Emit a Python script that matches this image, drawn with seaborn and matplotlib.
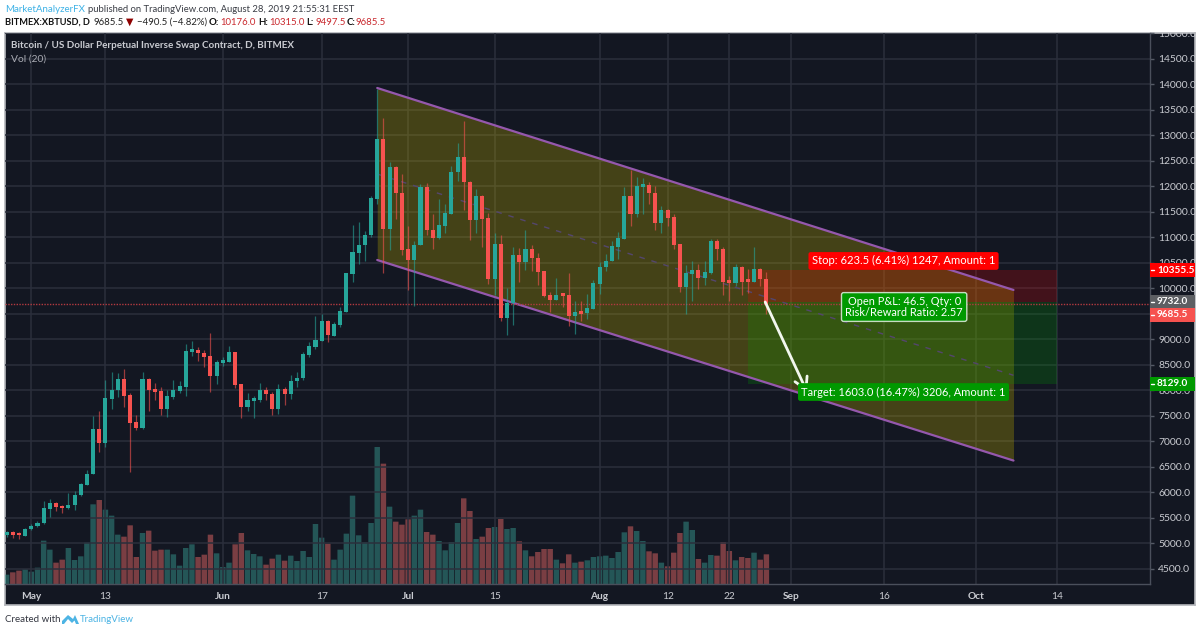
import numpy as np
import pandas as pd
import seaborn as sns
import matplotlib
matplotlib.use("Agg")
import matplotlib.pyplot as plt
from matplotlib.patches import Polygon, Rectangle

# Candles, one per day from 27 Apr 2019 to 28 Aug 2019
opens = [5160, 5180, 5173, 5147, 5271, 5330, 5389, 5670, 5781, 5729, 5683, 5749, 5945, 6141, 6356, 7239, 6971, 7828, 7998, 8213,
         7906, 7376, 7252, 8213, 8024, 7978, 7625, 7873, 7991, 8070, 8750, 8789, 8730, 8671, 8279, 8540, 8554, 8750, 8115, 7670,
         7795, 7808, 8004, 7932, 7625, 8024, 7919, 8174, 8233, 8684, 8848, 8972, 9358, 9070, 9280, 9541, 10280, 10699, 10843, 11045,
         11752, 12929, 11157, 12380, 11870, 10765, 10555, 10843, 11994, 11144, 10994, 11229, 11464, 12282, 12570, 12092, 11334, 11811, 11373, 10189,
         10869, 9424, 9712, 10660, 10516, 10765, 10601, 10333, 9862, 9771, 9875, 9862, 9457, 9535, 9508, 9593, 10084, 10411, 10535, 10816,
         10973, 11817, 11464, 11987, 12026, 11876, 11274, 11536, 11398, 10862, 10025, 10287, 10359, 10202, 10300, 10928, 10777, 10143, 10097, 10411,
         10143, 10130, 10378, 10176]
closes = [5180, 5160, 5154, 5278, 5343, 5402, 5683, 5781, 5703, 5683, 5749, 5945, 6154, 6363, 7239, 6971, 7847, 8004, 8213, 7893,
          7357, 7252, 8213, 8004, 7965, 7625, 7886, 8004, 8083, 8763, 8789, 8724, 8658, 8279, 8554, 8573, 8750, 8102, 7670, 7801,
          7814, 8004, 7919, 7625, 8024, 7919, 8181, 8246, 8710, 8867, 8985, 9358, 9077, 9299, 9554, 10293, 10712, 10856, 11045, 11778,
          12929, 11157, 12380, 11870, 10752, 10555, 10850, 11994, 11137, 10994, 11236, 11471, 12288, 12570, 12092, 11334, 11811, 11366, 10189, 10869,
          9424, 9712, 10660, 10516, 10765, 10595, 10326, 9849, 9771, 9875, 9849, 9457, 9535, 9502, 9613, 10097, 10417, 10535, 10823, 10986,
          11817, 11464, 12000, 12026, 11863, 11274, 11536, 11385, 10856, 10025, 10300, 10359, 10202, 10319, 10928, 10771, 10130, 10104, 10411, 10130,
          10123, 10378, 10176, 9685.5]
highs = [5232, 5238, 5226, 5297, 5376, 5435, 5821, 5873, 5808, 5755, 5991, 6023, 6180, 6435, 7494, 7599, 8200, 8351, 8338, 8416,
         7952, 7507, 8351, 8233, 8142, 8070, 8004, 8200, 8181, 8900, 8972, 8841, 8796, 9116, 8586, 8645, 8867, 8750, 8115, 7945,
         7886, 8142, 8063, 7965, 8128, 8070, 8292, 8351, 8750, 8946, 9450, 9495, 9371, 9332, 9626, 10293, 11241, 11294, 11117, 11810,
         13916, 13348, 12472, 12393, 12236, 11222, 10928, 12040, 12066, 11451, 11752, 11654, 12393, 12844, 13276, 12098, 11948, 11837, 11471, 11079,
         11046, 10000, 10804, 10784, 11144, 10843, 10693, 10333, 9934, 10202, 9901, 10307, 9758, 9744, 9888, 10162, 10516, 10673, 10928, 11098,
         11980, 12321, 12177, 12164, 12079, 12007, 11614, 11555, 11451, 10862, 10457, 10535, 10483, 10529, 10960, 10967, 10803, 10247, 10476, 10430,
         10378, 10810, 10398, 10315]
lows = [5114, 5108, 5082, 5140, 5265, 5324, 5376, 5520, 5624, 5585, 5677, 5657, 5932, 6135, 6350, 6794, 6886, 7638, 7873, 7670,
        6402, 7219, 7245, 7599, 7814, 7507, 7481, 7821, 7952, 7893, 8678, 8573, 8462, 7972, 8128, 8475, 8547, 8043, 7448, 7599,
        7461, 7775, 7808, 7520, 7540, 7716, 7828, 8070, 8194, 8652, 8815, 8966, 8946, 9064, 9247, 9541, 10130, 10483, 10542, 11013,
        11647, 10307, 10752, 11360, 10660, 9967, 9659, 10843, 11046, 10771, 10961, 11079, 11451, 12112, 11536, 10948, 11092, 10817, 10091, 9869,
        9365, 9090, 9287, 10117, 10366, 10340, 10071, 9823, 9529, 9771, 9627, 9267, 9110, 9359, 9391, 9587, 9888, 10345, 10535, 10581,
        10973, 11222, 11392, 11457, 11654, 11137, 11078, 11228, 10771, 9920, 9502, 9750, 9979, 10064, 10280, 10555, 9862, 9750, 10051, 9862,
        9901, 10130, 10045, 9497.5]
# Volume, in pane units (the pane shows no scale)
volumes = [28, 35, 40, 44, 37, 49, 130, 103, 64, 73, 108, 72, 83, 124, 239, 252, 223, 205, 148, 142,
           176, 81, 153, 160, 100, 103, 103, 89, 55, 108, 119, 81, 88, 148, 92, 51, 64, 119, 153, 101,
           90, 83, 58, 76, 88, 70, 85, 69, 99, 81, 180, 139, 121, 73, 103, 151, 265, 146, 125, 183,
           411, 361, 232, 187, 178, 194, 205, 223, 156, 148, 129, 101, 126, 183, 257, 219, 135, 142, 168, 171,
           195, 165, 168, 128, 101, 83, 96, 105, 105, 73, 62, 89, 64, 67, 71, 81, 83, 85, 78, 96,
           155, 173, 159, 129, 98, 92, 64, 53, 94, 153, 187, 162, 75, 64, 87, 85, 126, 99, 71, 81,
           78, 94, 73, 89]

tick_dates = ["2019-05-01", "2019-05-13", "2019-06-01", "2019-06-17", "2019-07-01", "2019-07-15", "2019-08-01",
              "2019-08-12", "2019-08-22", "2019-09-01", "2019-09-16", "2019-10-01", "2019-10-14"]
tick_labels = ["May", "13", "Jun", "17", "Jul", "15", "Aug", "12", "22", "Sep", "16", "Oct", "14"]
price_ticks = [4500, 5000, 5500, 6000, 6500, 7000, 7500, 8000, 8500, 9000, 9500, 10000, 10500, 11000, 11500,
               12000, 12500, 13000, 13500, 14000, 14500, 15000]

# Drawings on the chart
channel_dates = ["2019-06-26", "2019-10-07"]
channel_high = [13930, 9967]
channel_low = [10555, 6620]
channel_mid = [12242, 8293]
position_dates = ["2019-08-25", "2019-10-14"]
entry_price = 9732
stop_price = 10355.5
target_price = 8129
last_price = 9685.5
arrow_dates = ["2019-08-28", "2019-09-03"]
arrow_prices = [9732, 7965]

# price tags on the right scale: text, where it sits, colour
tag_texts = ["10355.5", "9732.0", "9685.5", "8129.0"]
tag_prices = [10355.5, 9732, 9482, 8129]
tag_colors = ["#ff0000", "#5d5f63", "#f6524f", "#009900"]

BG = "#131722"
GRID = "#2b2f3c"
TEXT = "#c9cbd1"
UP = "#26a69a"
DOWN = "#f6524f"
PURPLE = "#9558ad"
W, H = 1200, 633


def day_of(date):
    return (pd.Timestamp(date) - pd.Timestamp("2019-05-01")).days


def fx(x):
    return x / W


def fy(y):
    return 1 - y / H


sns.set_theme(style="dark")
plt.rcParams["font.family"] = ["Lato", "DejaVu Sans"]

dates = pd.date_range("2019-04-27", "2019-08-28")
df = pd.DataFrame({"day": [day_of(d) for d in dates], "open": opens, "close": closes,
                   "high": highs, "low": lows, "volume": volumes})
df["direction"] = np.where(df["close"] >= df["open"], "up", "down")
df["color"] = df["direction"].map({"up": UP, "down": DOWN})

fig = plt.figure(figsize=(W / 100, H / 100), dpi=100, facecolor="white")

# outer panel, runs under both scales
frame = fig.add_axes([fx(5), fy(605), fx(1190), 572 / H], facecolor=BG)
frame.set_xticks([])
frame.set_yticks([])
for s in frame.spines.values():
    s.set_color("#b4b6bb")
    s.set_linewidth(1.2)

box = [fx(5), fy(584), fx(1145), 551 / H]

# volume pane
vol_ax = fig.add_axes(box, zorder=1)
vol_ax.patch.set_alpha(0)
sns.barplot(data=df, x="day", y="volume", hue="direction", palette={"up": UP, "down": DOWN},
            native_scale=True, dodge=False, width=0.88, alpha=0.5, errorbar=None, legend=False,
            linewidth=0, ax=vol_ax)
for p in vol_ax.patches:
    p.set_snap(False)
vol_ax.set_xlim(-4.26, 181.1)
vol_ax.set_ylim(0, 1653)
vol_ax.axis("off")

# price pane
ax = fig.add_axes(box, zorder=2)
ax.patch.set_alpha(0)
ax.set_xlim(-4.26, 181.1)
ax.set_ylim(4198, 15009)
ax.set_axisbelow(True)
ax.grid(True, color=GRID, linewidth=1.1)

channel_x = [day_of(d) for d in channel_dates]
ax.fill_between(channel_x, channel_low, channel_high, color="#b8a800", alpha=0.3, linewidth=0, zorder=1)
pos_x = [day_of(d) for d in position_dates]
ax.fill_between(pos_x, entry_price, stop_price, color="#ff0000", alpha=0.2, linewidth=0, zorder=1.2)
ax.fill_between(pos_x, target_price, entry_price, color="#00a000", alpha=0.22, linewidth=0, zorder=1.2)

sns.lineplot(x=channel_x, y=channel_high, color=PURPLE, linewidth=1.6, ax=ax, zorder=2)
sns.lineplot(x=channel_x, y=channel_low, color=PURPLE, linewidth=1.6, ax=ax, zorder=2)
sns.lineplot(x=channel_x, y=channel_mid, color="#54466e", linewidth=1, linestyle=(0, (4, 5)), ax=ax, zorder=2)
ax.axhline(last_price, color="#b23a40", linewidth=1, linestyle=(0, (1, 1)), zorder=2.2)

# candles
ax.vlines(df["day"], df["low"], df["high"], colors=df["color"], linewidth=0.9, alpha=0.6, zorder=3)
ax.bar(df["day"], (df["close"] - df["open"]).abs().clip(lower=50), bottom=df[["open", "close"]].min(axis=1),
       width=0.66, color=df["color"], linewidth=0, zorder=4)

# white arrow to the target
ax.annotate("", xy=(day_of(arrow_dates[1]) + 0.6, arrow_prices[1]), xytext=(day_of(arrow_dates[0]) - 0.2, arrow_prices[0]),
            arrowprops=dict(arrowstyle="->,head_length=0.7,head_width=0.4", color="#f2f7ee", lw=2, shrinkA=0, shrinkB=0),
            zorder=6)

# order boxes
ax.text(141.2, 10536, "Stop: 623.5 (6.41%) 1247, Amount: 1", color="white", fontsize=8.1, ha="center", va="center",
        zorder=7, bbox=dict(boxstyle="round,pad=0.3,rounding_size=0.2", fc="#ff0000", ec="none"))
ax.text(141.2, 7965, "Target: 1603.0 (16.47%) 3206, Amount: 1", color="white", fontsize=8.0, ha="center", va="center",
        zorder=7, bbox=dict(boxstyle="round,pad=0.3,rounding_size=0.2", fc="#009900", ec="none"))
ax.text(141.3, 9633, "Open P&L: 46.5, Qty: 0\nRisk/Reward Ratio: 2.57", color="white", fontsize=7.9, ha="center", va="center",
        linespacing=0.9, zorder=7, bbox=dict(boxstyle="round,pad=0.35,rounding_size=0.2", fc="#009900", ec="#c6dcc2", lw=1))

# scales
ax.set_xticks([day_of(d) for d in tick_dates])
ax.set_xticklabels(tick_labels)
ax.set_yticks(price_ticks)
ax.set_yticklabels(["%.1f" % p for p in price_ticks])
ax.yaxis.tick_right()
ax.tick_params(axis="y", length=3, width=1, color="#555a66", labelcolor=TEXT, labelsize=7.5, pad=3)
ax.tick_params(axis="x", length=3, width=1, color="#555a66", labelcolor=TEXT, labelsize=7.3, pad=2.5)
for lab in ax.get_xticklabels():
    if not lab.get_text().isdigit():
        lab.set_fontweight("bold")
for lab in ax.get_yticklabels():
    lab.set_clip_box(frame.bbox)
    lab.set_clip_on(True)
for s in ["top", "left"]:
    ax.spines[s].set_visible(False)
for s in ["right", "bottom"]:
    ax.spines[s].set_color("#4a4f5b")
    ax.spines[s].set_linewidth(1)

# price tags on the right scale
ytrans = ax.get_yaxis_transform()
for txt, val, col in zip(tag_texts, tag_prices, tag_colors):
    ax.add_patch(Rectangle((1.0, val - 135), 45 / 1145, 270, transform=ytrans, facecolor=col, edgecolor="none",
                           clip_on=False, zorder=8))
    ax.plot([1.001, 1.0035], [val, val], transform=ytrans, color="white", linewidth=1, clip_on=False, zorder=9)
    ax.text(1.0062, val, txt, transform=ytrans, color="white", fontsize=7.2, fontweight="bold", va="center",
            ha="left", clip_on=False, zorder=9)

# legend lines inside the chart
fig.text(fx(11), fy(45.5), "Bitcoin / US Dollar Perpetual Inverse Swap Contract, D, BITMEX", color=TEXT, fontsize=7.1,
         fontweight="bold", va="center", zorder=5)
fig.text(fx(11), fy(59), "Vol (20)", color="#a9abb3", fontsize=7.4, va="center", zorder=5)

# header
fig.text(fx(5), fy(9), "MarketAnalyzerFX", color="#3eb2e6", fontsize=7.0, va="center")
fig.text(fx(88.5), fy(9), "published on TradingView.com, August 28, 2019 21:55:31 EEST", color="#3a3d45", fontsize=6.8, va="center")
row = [(5, "BITMEX:XBTUSD, D", "#111111", "bold", 6.7), (94, "9685.5", "#222222", "normal", 6.9), (126, "▼", "#8e0000", "normal", 6.9),
       (137, "−490.5 (−4.82%)", "#222222", "normal", 6.9), (209, "O:", "#111111", "bold", 6.9), (220, "10176.0", "#c9282d", "normal", 6.9),
       (258, "H:", "#111111", "bold", 6.9), (269, "10315.0", "#c9282d", "normal", 6.9), (306, "L:", "#111111", "bold", 6.9),
       (315, "9497.5", "#c9282d", "normal", 6.9), (347, "C:", "#111111", "bold", 6.9), (356, "9685.5", "#c9282d", "normal", 6.9)]
for x, t, c, w, size in row:
    fig.text(fx(x), fy(22.5), t, color=c, fontweight=w, fontsize=size, va="center")

# footer with the little logo
fig.text(fx(5), fy(620), "Created with", color="#333640", fontsize=7.0, va="center")
fig.text(fx(80), fy(620), "TradingView", color="#4db4e4", fontsize=7.0, va="center")
logo = [(62, 624), (62, 621), (68, 615), (73, 619), (75, 615), (79, 624), (76, 624), (74.5, 620.5), (72, 623), (68, 619), (64, 624)]
fig.add_artist(Polygon([(fx(a), fy(b)) for a, b in logo], closed=True, transform=fig.transFigure,
                       facecolor="#4db4e4", edgecolor="none"))

fig.savefig("out.png", dpi=100)
